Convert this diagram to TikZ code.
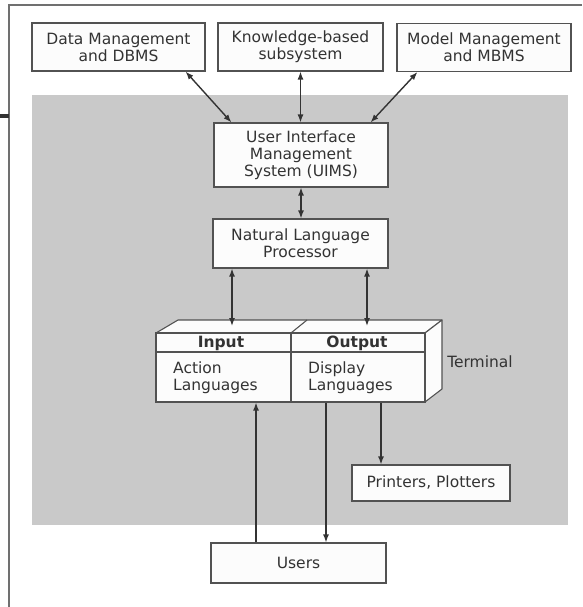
\documentclass[tikz,border=0pt]{standalone}
\usepackage{fontspec}
\setmainfont{DejaVu Sans}
\usetikzlibrary{arrows.meta,calc}

\definecolor{ink}{HTML}{333333}
\definecolor{panelgray}{HTML}{C9C9C9}
\definecolor{paper}{HTML}{FCFCFC}

\tikzset{
  lbl/.style={font=\fontsize{15.5}{17}\selectfont, text=ink, align=center},
  box/.style={lbl, draw=ink!85, line width=1.1pt, fill=paper, inner sep=0pt},
  link/.style={draw=ink, line width=1.4pt},
  both/.style={link, {Latex[length=8pt,width=6pt]}-{Latex[length=8pt,width=6pt]}},
  fwd/.style={link, -{Latex[length=8pt,width=6pt]}},
}

\begin{document}
\begin{tikzpicture}[x=1pt, y=-1pt]
  \useasboundingbox (0,0) rectangle (582,607);
  \fill[white] (0,0) rectangle (582,607);

  % page frame and margin mark
  \draw[ink!70, line width=1.3pt] (582,5) -- (9,5) -- (9,607);
  \draw[ink, line width=3.5pt] (0,116) -- (9,116);

  % shaded area of the system
  \fill[panelgray] (32,95) rectangle (568,525);

  % subsystems
  \node[box, minimum width=173pt, minimum height=48pt] (data)  at (118.5,47) {Data Management\\and DBMS};
  \node[box, minimum width=165pt, minimum height=48pt] (know)  at (300.5,47) {Knowledge-based\\subsystem};
  \node[box, minimum width=174pt, minimum height=48pt] (model) at (484,47.5) {Model Management\\and MBMS};

  \node[box, minimum width=174pt, minimum height=64pt] (uims) at (301,155)
    {User Interface\\Management\\System (UIMS)};
  \node[box, minimum width=175pt, minimum height=49pt] (nlp) at (300.5,243.5)
    {Natural Language\\Processor};

  % terminal block: top and side faces
  \filldraw[fill=paper, draw=ink!85, line width=1.1pt, line join=round]
    (156,333) -- (178,320) -- (442,320) -- (425,333) -- cycle;
  \filldraw[fill=paper, draw=ink!85, line width=1.1pt, line join=round]
    (425,333) -- (442,320) -- (442,389) -- (425,402) -- cycle;
  \draw[ink!85, line width=1.1pt] (291,333) -- (307,320);

  % terminal block: front face
  \node[box, minimum width=135pt, minimum height=69pt] (inp)  at (223.5,367.5) {};
  \node[box, minimum width=134pt, minimum height=69pt] (outp) at (358,367.5) {};
  \draw[ink!85, line width=1.1pt] (inp.west |- 0,352) -- (outp.east |- 0,352);

  \node[lbl, font=\fontsize{15.5}{17}\selectfont\bfseries] (inhead)  at (221,343) {Input};
  \node[lbl, font=\fontsize{15.5}{17}\selectfont\bfseries] (outhead) at (357,343) {Output};
  \node[lbl, align=left, anchor=west, inner sep=0pt] (action)  at (173,378) {Action\\Languages};
  \node[lbl, align=left, anchor=west, inner sep=0pt] (display) at (308,378) {Display\\Languages};
  \node[lbl] (term) at (480,362) {Terminal};

  \node[box, minimum width=158pt, minimum height=36pt] (print) at (431,483) {Printers, Plotters};
  \node[box, minimum width=175pt, minimum height=40pt] (users) at (298.5,563) {Users};

  % connectors
  \draw[both] ([xshift=-20pt]data.south east) -- ([xshift=18pt]uims.north west);
  \draw[both] (know.south) -- (know.south |- uims.north);
  \draw[both] ([xshift=21pt]model.south west) -- ([xshift=-18pt]uims.north east);
  \draw[both] (uims.south) -- (uims.south |- nlp.north);

  \coordinate (topin)  at (232,326);
  \coordinate (topout) at (367,326);
  \draw[both] (nlp.south -| topin) -- (topin);
  \draw[both] (nlp.south -| topout) -- (topout);

  \draw[fwd] (users.north -| 256,0) -- (inp.south -| 256,0);
  \draw[fwd] (outp.south -| 326,0) -- (users.north -| 326,0);
  \draw[fwd] (outp.south -| 381,0) -- (print.north -| 381,0);
\end{tikzpicture}
\end{document}
